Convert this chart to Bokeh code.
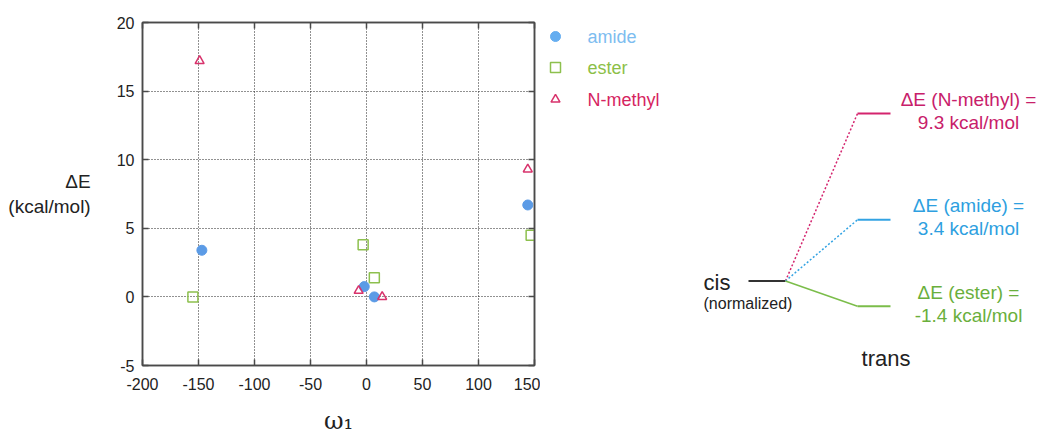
from bokeh.plotting import figure
from bokeh.models import (Range1d, FixedTicker, LinearAxis, CustomJSTickFormatter)
from bokeh.layouts import row
from bokeh.embed import file_html
from bokeh.resources import INLINE
from bokeh.core.properties import value

# ---------------- data ----------------
series_names = ["amide", "ester", "N-methyl"]
amide_omega = [-147, -2, 7, 144]
amide_dE = [3.4, 0.75, 0.0, 6.7]
ester_omega = [-155, -3, 7, 147]
ester_dE = [0.0, 3.8, 1.4, 4.5]
nmethyl_omega = [-149, -7, 14, 144]
nmethyl_dE = [17.2, 0.45, 0.0, 9.3]

x_ticks = [-200, -150, -100, -50, 0, 50, 100, 150]
y_ticks = [-5, 0, 5, 10, 15, 20]

diagram_names = ["N-methyl", "amide", "ester"]
diagram_dE = [9.3, 3.4, -1.4]

# ---------------- styles ----------------
FONT = "Liberation Sans"
C_AMIDE = "#5B9BE6"
C_ESTER = "#8DC04E"
C_NMETH = "#D8336C"
LEG_TEXT = {"amide": "#7DBDF0", "ester": "#8CBF48", "N-methyl": "#D6245F"}
FRAME = "#4a4a4a"
H = 441
TOP = 22          # frame top (px) shared by all panels
FRAME_H = 343

# ---------------- scatter plot ----------------
p = figure(x_range=Range1d(-200, 150), y_range=Range1d(-5, 20),
           frame_width=392, frame_height=FRAME_H,
           min_border_left=142, min_border_right=6, min_border_top=TOP,
           min_border_bottom=H - TOP - FRAME_H,
           output_backend="svg", toolbar_location=None,
           background_fill_color="white", border_fill_color="white")
p.outline_line_color = FRAME
p.outline_line_width = 1.5

plain_fmt = "return tick.toString();"
for ax, ticks in ((p.xaxis[0], x_ticks), (p.yaxis[0], y_ticks)):
    ax.ticker = FixedTicker(ticks=ticks)
    ax.formatter = CustomJSTickFormatter(code=plain_fmt)
    ax.major_tick_in = 6
    ax.major_tick_out = 0
    ax.minor_tick_line_color = None
    ax.axis_line_color = FRAME
    ax.axis_line_width = 1.5
    ax.major_tick_line_color = FRAME
    ax.major_tick_line_width = 1.5
    ax.major_label_text_font = FONT
    ax.major_label_text_font_size = "16px"
    ax.major_label_text_color = "#222222"
    ax.axis_label_text_font_style = "normal"
    ax.axis_label_text_color = "#222222"
p.xaxis.major_label_standoff = 12
p.yaxis.major_label_standoff = 8

# axis titles
p.yaxis.axis_label = "ΔE\n(kcal/mol)"
p.yaxis.axis_label_text_font = FONT
p.yaxis.axis_label_text_font_size = "19px"
p.yaxis.axis_label_standoff = 23
try:
    p.yaxis[0].axis_label_orientation = "horizontal"
except AttributeError:
    pass
p.xaxis.axis_label = "ω₁"
p.xaxis.axis_label_text_font = "DejaVu Serif"
p.xaxis.axis_label_text_font_size = "24px"
p.xaxis.axis_label_standoff = 14

for place, ticks in (("above", x_ticks), ("right", y_ticks)):
    ax = LinearAxis(ticker=FixedTicker(ticks=ticks),
                    formatter=CustomJSTickFormatter(code="return '';"),
                    major_tick_in=6, major_tick_out=0, minor_tick_line_color=None,
                    axis_line_color=FRAME, axis_line_width=1.5,
                    major_tick_line_color=FRAME, major_tick_line_width=1.5,
                    major_label_text_font_size="1px", major_label_standoff=0)
    p.add_layout(ax, place)

p.xgrid.ticker = FixedTicker(ticks=x_ticks)
p.ygrid.ticker = FixedTicker(ticks=y_ticks)
p.grid.grid_line_color = "#222222"
p.grid.grid_line_dash = "1 2"
p.grid.grid_line_width = 1

p.scatter(amide_omega, amide_dE, marker="circle", size=10,
          fill_color=C_AMIDE, line_color=C_AMIDE)
p.scatter(ester_omega, ester_dE, marker="square", size=10,
          fill_color=None, line_color=C_ESTER, line_width=1.5)
p.scatter(nmethyl_omega, nmethyl_dE, marker="triangle", size=9,
          fill_color=None, line_color=C_NMETH, line_width=1.5)

# ---------------- legend (drawn as its own small panel, pixel coordinates) ----------------
LEG_W = 156
lg = figure(x_range=Range1d(0, LEG_W), y_range=Range1d(TOP + FRAME_H, TOP),
            frame_width=LEG_W, frame_height=FRAME_H,
            min_border_left=0, min_border_right=0, min_border_top=TOP,
            min_border_bottom=H - TOP - FRAME_H,
            x_axis_type=None, y_axis_type=None,
            output_backend="svg", toolbar_location=None,
            background_fill_color="white", border_fill_color="white")
lg.outline_line_color = None
LEG_MARK_X, LEG_TEXT_X = 15, 47
LEG_ROWS = [36, 67, 99]
leg_style = {
    "amide": dict(marker="circle", size=10, fill_color="#64ADF0", line_color="#64ADF0"),
    "ester": dict(marker="square", size=10, fill_color=None, line_color=C_ESTER, line_width=1.5),
    "N-methyl": dict(marker="triangle", size=9, fill_color=None, line_color=C_NMETH, line_width=1.5),
}
for name, yy in zip(series_names, LEG_ROWS):
    lg.scatter([LEG_MARK_X], [yy], **leg_style[name])
    lg.text(x=[LEG_TEXT_X], y=[yy], text=[name], text_align="left", text_baseline="middle",
            text_font=value(FONT), text_font_size="18px", text_color=LEG_TEXT[name])

# ---------------- energy diagram (y in kcal/mol) ----------------
D_W = 344
PX_PER_KCAL = 18.0
ZERO_Y = 280.5
D_FRAME_H = H - TOP
d = figure(x_range=Range1d(0, D_W),
           y_range=Range1d(-(H - ZERO_Y) / PX_PER_KCAL, (ZERO_Y - TOP) / PX_PER_KCAL),
           frame_width=D_W, frame_height=D_FRAME_H,
           min_border_left=0, min_border_right=0, min_border_top=TOP, min_border_bottom=0,
           x_axis_type=None, y_axis_type=None,
           output_backend="svg", toolbar_location=None,
           background_fill_color="white", border_fill_color="white")
d.outline_line_color = None

CIS_X0, CIS_X1 = 52, 89
TRANS_X0, TRANS_X1 = 161, 194
LABEL_X = 272
line_col = {"N-methyl": "#D4246E", "amide": "#33A3E3", "ester": "#7BBD4A"}
text_col = {"N-methyl": "#C8206A", "amide": "#2E9FE0", "ester": "#6AAF3C"}
diag_dash = {"N-methyl": "2 2", "amide": "2 2", "ester": "solid"}

d.segment(x0=[CIS_X0], y0=[0], x1=[CIS_X1], y1=[0], line_color="#333333", line_width=2)
for name, e in zip(diagram_names, diagram_dE):
    d.segment(x0=[CIS_X1], y0=[0], x1=[TRANS_X0], y1=[e], line_color=line_col[name],
              line_width=1.5, line_dash=diag_dash[name])
    d.segment(x0=[TRANS_X0], y0=[e], x1=[TRANS_X1], y1=[e], line_color=line_col[name],
              line_width=2)
    d.text(x=[LABEL_X], y=[e], text=[f"ΔE ({name}) ="],
           text_align="center", text_baseline="middle", text_font=value(FONT),
           text_font_size="19px", text_color=text_col[name], y_offset=-14)
    d.text(x=[LABEL_X], y=[e], text=[f"{e:.1f} kcal/mol"],
           text_align="center", text_baseline="middle", text_font=value(FONT),
           text_font_size="19px", text_color=text_col[name], y_offset=9)

d.text(x=[7], y=[0], text=["cis"], text_align="left", text_baseline="middle",
       text_font=value(FONT), text_font_size="22px", text_color="#222222", y_offset=1)
d.text(x=[7], y=[0], text=["(normalized)"], text_align="left", text_baseline="middle",
       text_font=value(FONT), text_font_size="16px", text_color="#222222", y_offset=22)
d.text(x=[(TRANS_X0 + TRANS_X1) / 2 + 12], y=[min(diagram_dE)], text=["trans"],
       text_align="center", text_baseline="middle", text_font=value(FONT),
       text_font_size="22px", text_color="#222222", y_offset=52)

layout = row(p, lg, d)
open("out.html", "w").write(file_html(layout, INLINE))
